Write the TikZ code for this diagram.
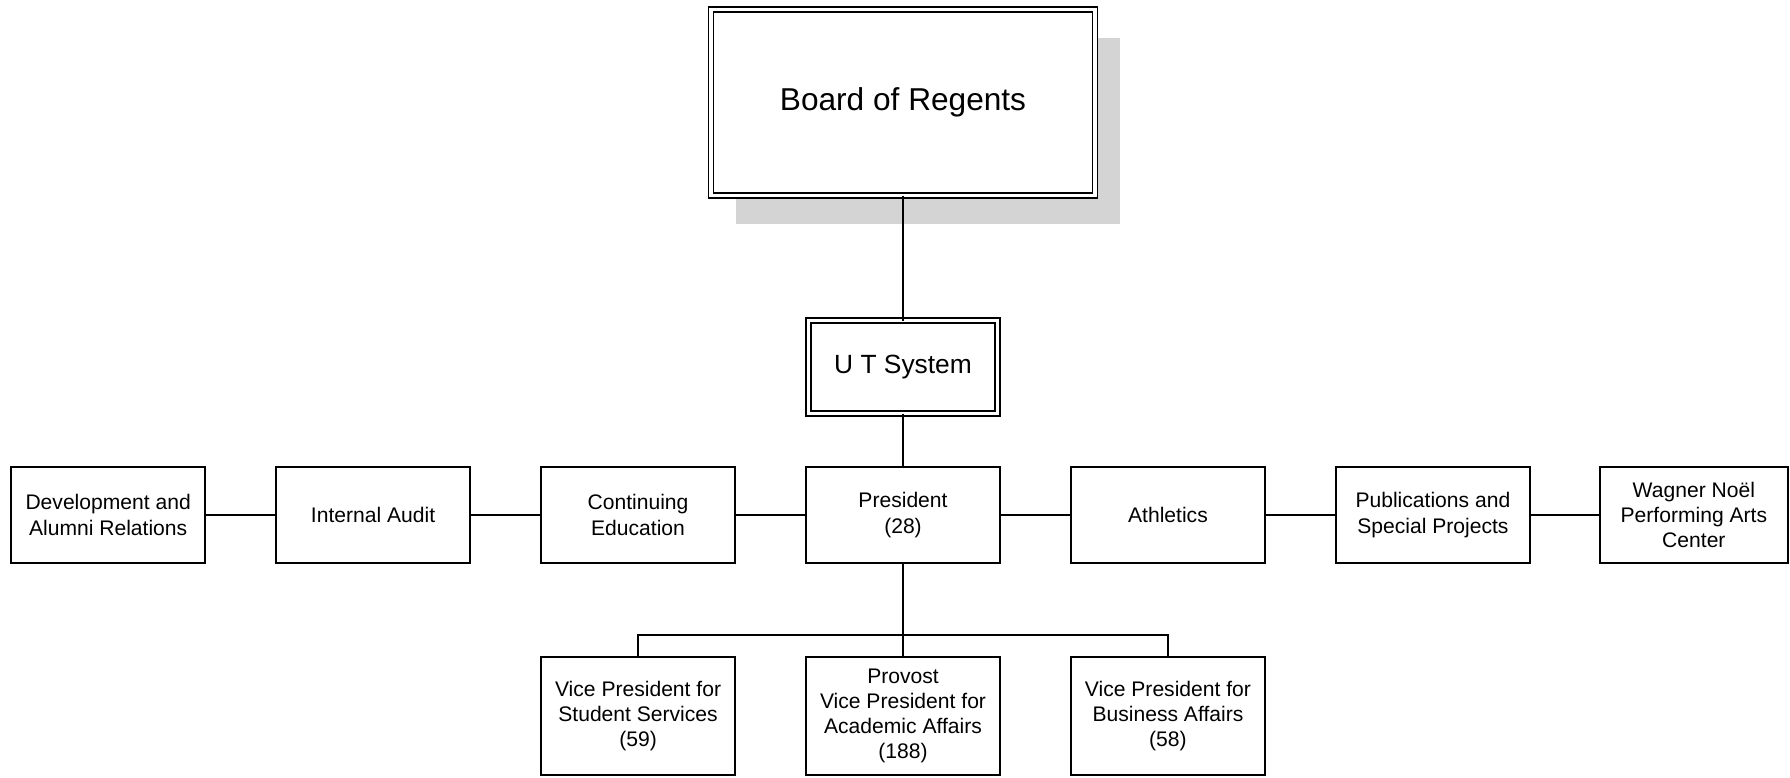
\documentclass[tikz,border=0pt]{standalone}
\usepackage{fontspec}
\setmainfont{Liberation Sans}
\usetikzlibrary{positioning,shadows}

\begin{document}
\begin{tikzpicture}[x=0.02cm,y=-0.02cm]
	\tikzstyle{UnitBox}   = [rectangle, draw, line width=1pt, outer sep=0pt, inner sep=2pt, fill=white,
	                         minimum width=3.88cm, minimum height=1.92cm, align=center,
	                         font=\fontsize{12}{14.4}\selectfont]
	\tikzstyle{VPBox}     = [UnitBox, minimum height=2.36cm]
	\tikzstyle{DoubleBox} = [rectangle, draw, line width=0.9pt, double, double distance=1.8pt,
	                         outer sep=0pt, fill=white, align=center]
	\tikzstyle{EdgeStyle} = [line width=1pt]

	\useasboundingbox (0,0) rectangle (1790,777);

	% middle row
	\node[UnitBox] (President) at (903,515) {President\\(28)};
	\node[UnitBox, left=1.42cm of President]   (Continuing) {Continuing\\Education};
	\node[UnitBox, left=1.42cm of Continuing]  (Audit)      {Internal Audit};
	\node[UnitBox, left=1.42cm of Audit]       (Development){Development and\\Alumni Relations};
	\node[UnitBox, right=1.42cm of President]  (Athletics)  {Athletics};
	\node[UnitBox, right=1.42cm of Athletics]  (Publications){Publications and\\Special Projects};
	\node[UnitBox, right=1.4cm of Publications, minimum width=3.76cm] (Wagner)
		{Wagner No\"el\\Performing Arts\\Center};

	% top
	\node[DoubleBox, above=1.07cm of President, minimum width=3.78cm, minimum height=1.86cm,
	      font=\fontsize{15}{18}\selectfont] (System) {U T System};
	\node[DoubleBox, above=2.5cm of System, minimum width=7.68cm, minimum height=3.72cm,
	      font=\fontsize{18}{21}\selectfont,
	      drop shadow={shadow xshift=0.5cm, shadow yshift=-0.56cm, fill=black!17, opacity=1}] (Board)
		{Board of Regents};

	% vice presidents
	\node[VPBox, below=1.88cm of President] (Provost) {Provost\\Vice President for\\Academic Affairs\\(188)};
	\node[VPBox, left=1.42cm of Provost]    (Student) {Vice President for\\Student Services\\(59)};
	\node[VPBox, right=1.42cm of Provost]   (Business){Vice President for\\Business Affairs\\(58)};
	\coordinate (bus) at (903,635);

	\draw[EdgeStyle] (Board) -- (System);
	\draw[EdgeStyle] (System) -- (President);
	\draw[EdgeStyle] (Development) -- (Audit) -- (Continuing) -- (President)
	                 -- (Athletics) -- (Publications) -- (Wagner);
	\draw[EdgeStyle] (President) -- (Provost);
	\draw[EdgeStyle] (Student.north) |- (bus) -| (Business.north);
\end{tikzpicture}
\end{document}
